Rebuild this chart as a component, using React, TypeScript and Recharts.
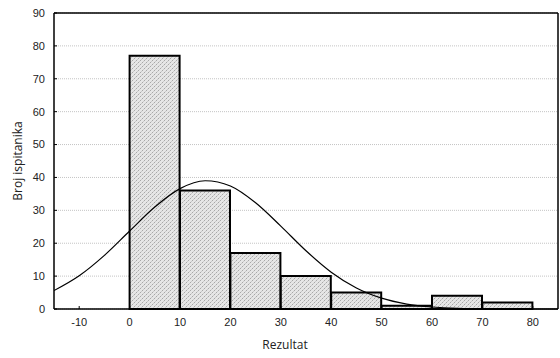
import { ComposedChart, Bar, Line, XAxis, YAxis, CartesianGrid } from 'recharts';

// histogram bins (center of each 10-wide class) and counts
const BIN_CENTERS = [5, 15, 25, 35, 45, 55, 65, 75];
const COUNTS = [77, 36, 17, 10, 5, 1, 4, 2];

// fitted normal curve, every 5 units
const CURVE_X = [-15, -10, -5, 0, 5, 10, 15, 20, 25, 30, 35, 40, 45, 50, 55, 60, 65, 70, 75, 80, 85];
const CURVE_Y = [5.6, 10.1, 16.3, 23.7, 31.0, 36.6, 39.0, 37.4, 32.3, 25.2, 17.7, 11.2, 6.4, 3.3, 1.5, 0.6, 0.2, 0.1, 0, 0, 0];

const X_TICKS = [-10, 0, 10, 20, 30, 40, 50, 60, 70, 80];
const Y_TICKS = [0, 10, 20, 30, 40, 50, 60, 70, 80, 90];

const bars = BIN_CENTERS.map((x, i) => ({ x, count: COUNTS[i] }));
const curve = CURVE_X.map((x, i) => ({ x, fit: CURVE_Y[i] }));

const tickStyle = { fill: '#222', fontSize: 11, fontFamily: 'Liberation Sans, Arial, sans-serif' };
const labelStyle = { fill: '#222', fontSize: 12, fontFamily: 'Open Sans, sans-serif' };

export default function App() {
  return (
    <div style={{ position: 'absolute', left: 0, top: 0, background: '#fff' }}>
      <ComposedChart
        width={560}
        height={358}
        data={bars}
        margin={{ top: 12, right: 1, bottom: 9, left: 0 }}
        barCategoryGap={0}
        barGap={0}
      >
        <defs>
          <pattern id="hatch" width="4" height="4" patternUnits="userSpaceOnUse">
            <rect width="4" height="4" fill="#e6e6e6" />
            <rect x="0" y="0" width="1" height="1" fill="#a8a8a8" />
            <rect x="2" y="2" width="1" height="1" fill="#a8a8a8" />
            <rect x="1" y="3" width="1" height="1" fill="#cacaca" />
            <rect x="3" y="1" width="1" height="1" fill="#cacaca" />
          </pattern>
        </defs>
        <CartesianGrid vertical={false} stroke="#c4c4c4" strokeDasharray="1 1" yAxisId="left" />
        <XAxis
          dataKey="x"
          type="number"
          domain={[-15, 85]}
          ticks={X_TICKS}
          allowDataOverflow
          height={40}
          tickSize={-3}
          tickMargin={12}
          tick={tickStyle}
          stroke="#000"
          axisLine={{ stroke: '#000', strokeWidth: 1.5 }}
          label={{ value: 'Rezultat', position: 'insideBottom', offset: 0, dx: -21, style: labelStyle }}
        />
        <XAxis
          xAxisId="top"
          orientation="top"
          dataKey="x"
          type="number"
          domain={[-15, 85]}
          ticks={X_TICKS}
          allowDataOverflow
          height={1}
          tickSize={-3}
          tick={false}
          stroke="#000"
          axisLine={{ stroke: '#000', strokeWidth: 1.5 }}
        />
        <YAxis
          yAxisId="left"
          type="number"
          domain={[0, 90]}
          ticks={Y_TICKS}
          width={54}
          tickSize={-3}
          tickMargin={12}
          tick={tickStyle}
          stroke="#000"
          axisLine={{ stroke: '#000', strokeWidth: 1.5 }}
          label={{ value: 'Broj ispitanika', angle: -90, position: 'insideLeft', offset: 18, style: { ...labelStyle, textAnchor: 'middle' } }}
        />
        <YAxis
          yAxisId="right"
          orientation="right"
          type="number"
          domain={[0, 90]}
          ticks={Y_TICKS}
          width={1}
          tickSize={-3}
          tick={false}
          stroke="#000"
          axisLine={{ stroke: '#000', strokeWidth: 1.5 }}
        />
        <Bar
          dataKey="count"
          yAxisId="left"
          fill="url(#hatch)"
          stroke="#000"
          strokeWidth={2}
          isAnimationActive={false}
        />
        <Line
          data={curve}
          xAxisId="top"
          yAxisId="left"
          dataKey="fit"
          type="monotone"
          stroke="#000"
          strokeWidth={1.2}
          dot={false}
          activeDot={false}
          isAnimationActive={false}
        />
      </ComposedChart>
    </div>
  );
}
